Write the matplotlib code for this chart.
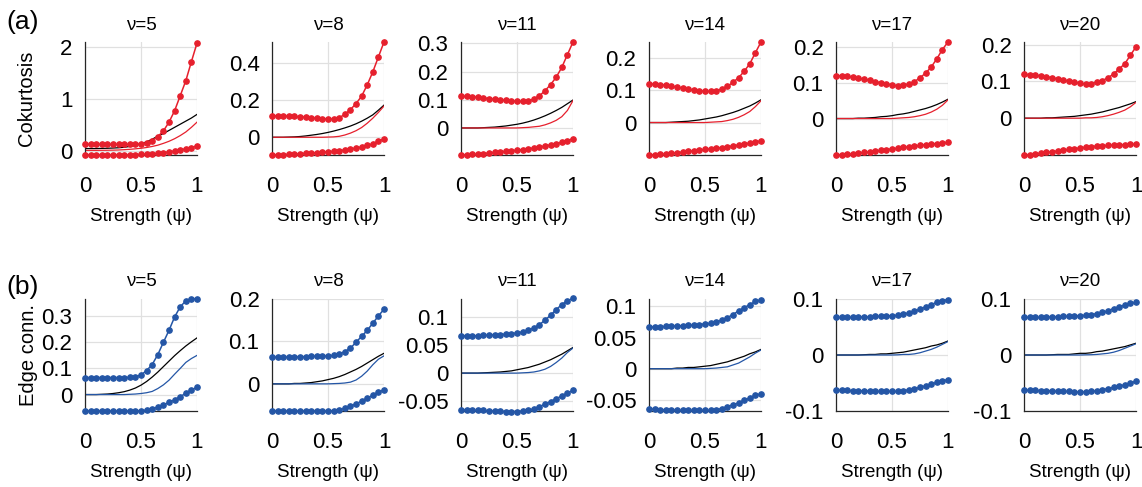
import matplotlib
matplotlib.use("Agg")
import matplotlib.pyplot as plt
from matplotlib.ticker import FormatStrFormatter

plt.rcParams["font.family"] = ["Liberation Sans", "DejaVu Sans"]
plt.rcParams["axes.unicode_minus"] = False

strength = [0.0, 0.05, 0.1, 0.15, 0.2, 0.25, 0.3, 0.35, 0.4, 0.45, 0.5,
            0.55, 0.6, 0.65, 0.7, 0.75, 0.8, 0.85, 0.9, 0.95, 1.0]
nu = [5, 8, 11, 14, 17, 20]

# (a) cokurtosis: upper / lower dotted bounds, black reference, red estimate
cok_upper = [
    [0.12, 0.12, 0.12, 0.12, 0.12, 0.12, 0.12, 0.12, 0.12, 0.125, 0.13, 0.15, 0.19, 0.27, 0.38, 0.55, 0.77, 1.06, 1.35, 1.72, 2.08],
    [0.115, 0.115, 0.114, 0.113, 0.112, 0.11, 0.108, 0.105, 0.102, 0.1, 0.098, 0.098, 0.105, 0.122, 0.148, 0.18, 0.22, 0.28, 0.35, 0.43, 0.51],
    [0.112, 0.112, 0.111, 0.109, 0.107, 0.104, 0.102, 0.1, 0.098, 0.096, 0.094, 0.094, 0.096, 0.102, 0.114, 0.132, 0.154, 0.18, 0.215, 0.26, 0.305],
    [0.119, 0.118, 0.117, 0.115, 0.112, 0.109, 0.106, 0.103, 0.1, 0.098, 0.096, 0.096, 0.098, 0.103, 0.111, 0.124, 0.138, 0.158, 0.181, 0.215, 0.248],
    [0.12, 0.119, 0.118, 0.116, 0.113, 0.11, 0.107, 0.103, 0.1, 0.097, 0.094, 0.092, 0.093, 0.097, 0.103, 0.114, 0.127, 0.144, 0.167, 0.193, 0.214],
    [0.119, 0.118, 0.117, 0.115, 0.113, 0.11, 0.107, 0.104, 0.101, 0.098, 0.095, 0.093, 0.094, 0.098, 0.102, 0.11, 0.12, 0.134, 0.148, 0.171, 0.194],
]
cok_lower = [
    [-0.08, -0.08, -0.08, -0.08, -0.08, -0.08, -0.08, -0.08, -0.08, -0.078, -0.075, -0.07, -0.062, -0.052, -0.04, -0.025, -0.008, 0.012, 0.035, 0.06, 0.09],
    [-0.095, -0.094, -0.093, -0.092, -0.09, -0.088, -0.086, -0.084, -0.082, -0.08, -0.078, -0.075, -0.072, -0.068, -0.063, -0.058, -0.052, -0.044, -0.035, -0.022, -0.008],
    [-0.096, -0.095, -0.094, -0.093, -0.091, -0.089, -0.087, -0.085, -0.083, -0.081, -0.079, -0.077, -0.074, -0.071, -0.068, -0.064, -0.06, -0.056, -0.051, -0.045, -0.038],
    [-0.1, -0.099, -0.098, -0.097, -0.095, -0.093, -0.091, -0.089, -0.087, -0.085, -0.083, -0.081, -0.079, -0.077, -0.074, -0.072, -0.069, -0.066, -0.063, -0.06, -0.056],
    [-0.102, -0.101, -0.1, -0.099, -0.097, -0.095, -0.093, -0.091, -0.089, -0.087, -0.085, -0.083, -0.081, -0.079, -0.077, -0.075, -0.073, -0.071, -0.07, -0.068, -0.067],
    [-0.1, -0.099, -0.097, -0.095, -0.093, -0.091, -0.089, -0.087, -0.085, -0.083, -0.081, -0.079, -0.077, -0.076, -0.075, -0.074, -0.073, -0.072, -0.072, -0.071, -0.071],
]
cok_black = [
    [0.04, 0.04, 0.04, 0.043, 0.045, 0.05, 0.055, 0.065, 0.08, 0.1, 0.13, 0.17, 0.22, 0.28, 0.33, 0.39, 0.45, 0.51, 0.57, 0.63, 0.70],
    [0, 0, 0, 0.001, 0.002, 0.004, 0.007, 0.011, 0.015, 0.02, 0.026, 0.033, 0.041, 0.05, 0.06, 0.072, 0.086, 0.102, 0.12, 0.145, 0.172],
    [0, 0, 0, 0, 0.001, 0.002, 0.003, 0.005, 0.007, 0.01, 0.013, 0.017, 0.022, 0.028, 0.035, 0.043, 0.052, 0.062, 0.073, 0.086, 0.099],
    [0, 0, 0, 0, 0.001, 0.002, 0.003, 0.004, 0.006, 0.008, 0.011, 0.014, 0.017, 0.021, 0.026, 0.031, 0.037, 0.044, 0.051, 0.06, 0.07],
    [0, 0, 0, 0, 0.001, 0.001, 0.002, 0.003, 0.005, 0.006, 0.008, 0.011, 0.013, 0.016, 0.02, 0.024, 0.028, 0.033, 0.039, 0.046, 0.054],
    [0, 0, 0, 0, 0.001, 0.001, 0.002, 0.003, 0.004, 0.005, 0.007, 0.009, 0.011, 0.014, 0.017, 0.021, 0.025, 0.029, 0.034, 0.039, 0.045],
]
cok_est = [
    [0.005, 0.005, 0.005, 0.006, 0.007, 0.009, 0.012, 0.018, 0.025, 0.034, 0.045, 0.06, 0.08, 0.105, 0.14, 0.18, 0.23, 0.29, 0.36, 0.45, 0.55],
    [0, 0, 0, 0, 0, 0, 0, 0, 0, 0, 0.001, 0.002, 0.005, 0.012, 0.022, 0.035, 0.052, 0.075, 0.102, 0.133, 0.167],
    [0, 0, 0, 0, 0, 0, 0, 0, 0, 0, 0, 0.001, 0.002, 0.004, 0.006, 0.011, 0.018, 0.027, 0.04, 0.062, 0.097],
    [0, 0, 0, 0, 0, 0, 0, 0, 0, 0, 0, 0.001, 0.002, 0.003, 0.006, 0.01, 0.016, 0.024, 0.034, 0.049, 0.067],
    [0, 0, 0, 0, 0, 0, 0, 0, 0, 0, 0, 0.001, 0.002, 0.003, 0.005, 0.008, 0.012, 0.018, 0.026, 0.037, 0.052],
    [0, 0, 0, 0, 0, 0, 0, 0, 0, 0, 0, 0.001, 0.001, 0.002, 0.004, 0.007, 0.011, 0.016, 0.022, 0.031, 0.043],
]

# (b) edge connectivity
edge_upper = [
    [0.065, 0.065, 0.065, 0.065, 0.065, 0.065, 0.065, 0.065, 0.066, 0.068, 0.075, 0.092, 0.115, 0.153, 0.2, 0.246, 0.297, 0.336, 0.359, 0.367, 0.366],
    [0.063, 0.063, 0.063, 0.063, 0.064, 0.064, 0.064, 0.065, 0.065, 0.065, 0.066, 0.067, 0.07, 0.076, 0.084, 0.098, 0.112, 0.126, 0.143, 0.16, 0.176],
    [0.067, 0.067, 0.067, 0.067, 0.068, 0.068, 0.069, 0.069, 0.07, 0.071, 0.072, 0.074, 0.077, 0.081, 0.087, 0.095, 0.104, 0.114, 0.123, 0.13, 0.134],
    [0.067, 0.067, 0.067, 0.068, 0.068, 0.069, 0.069, 0.07, 0.07, 0.071, 0.072, 0.073, 0.075, 0.078, 0.082, 0.087, 0.093, 0.098, 0.103, 0.108, 0.111],
    [0.067, 0.067, 0.067, 0.067, 0.068, 0.068, 0.068, 0.069, 0.069, 0.07, 0.07, 0.071, 0.073, 0.075, 0.078, 0.082, 0.086, 0.09, 0.094, 0.097, 0.099],
    [0.067, 0.067, 0.067, 0.067, 0.068, 0.068, 0.068, 0.069, 0.069, 0.07, 0.07, 0.071, 0.072, 0.074, 0.076, 0.079, 0.083, 0.086, 0.089, 0.092, 0.094],
]
edge_lower = [
    [-0.063, -0.063, -0.063, -0.063, -0.063, -0.063, -0.063, -0.063, -0.063, -0.063, -0.062, -0.06, -0.055, -0.048, -0.04, -0.03, -0.02, -0.008, 0.005, 0.017, 0.028],
    [-0.064, -0.064, -0.064, -0.064, -0.064, -0.064, -0.064, -0.064, -0.064, -0.064, -0.064, -0.063, -0.061, -0.058, -0.053, -0.047, -0.041, -0.034, -0.027, -0.02, -0.014],
    [-0.066, -0.066, -0.067, -0.067, -0.067, -0.068, -0.068, -0.068, -0.069, -0.069, -0.069, -0.068, -0.067, -0.064, -0.06, -0.056, -0.051, -0.046, -0.041, -0.036, -0.031],
    [-0.065, -0.065, -0.066, -0.066, -0.066, -0.067, -0.067, -0.067, -0.067, -0.067, -0.067, -0.067, -0.066, -0.064, -0.061, -0.058, -0.055, -0.051, -0.047, -0.043, -0.04],
    [-0.063, -0.063, -0.063, -0.064, -0.064, -0.064, -0.064, -0.065, -0.065, -0.065, -0.065, -0.065, -0.064, -0.062, -0.06, -0.058, -0.055, -0.052, -0.049, -0.046, -0.044],
    [-0.063, -0.063, -0.063, -0.064, -0.064, -0.064, -0.065, -0.065, -0.065, -0.066, -0.066, -0.066, -0.065, -0.064, -0.062, -0.06, -0.058, -0.056, -0.053, -0.05, -0.047],
]
edge_black = [
    [0, 0, 0, 0.001, 0.002, 0.004, 0.007, 0.011, 0.017, 0.025, 0.036, 0.05, 0.067, 0.086, 0.107, 0.128, 0.149, 0.168, 0.186, 0.202, 0.217],
    [0, 0, 0, 0, 0.001, 0.001, 0.002, 0.003, 0.005, 0.007, 0.01, 0.013, 0.017, 0.022, 0.028, 0.034, 0.041, 0.049, 0.057, 0.065, 0.072],
    [0, 0, 0, 0, 0.0005, 0.001, 0.0015, 0.002, 0.003, 0.004, 0.006, 0.008, 0.01, 0.013, 0.016, 0.02, 0.024, 0.029, 0.034, 0.04, 0.046],
    [0, 0, 0, 0, 0, 0.001, 0.001, 0.002, 0.002, 0.003, 0.004, 0.005, 0.007, 0.009, 0.011, 0.014, 0.017, 0.02, 0.024, 0.027, 0.031],
    [0, 0, 0, 0, 0, 0.0005, 0.001, 0.001, 0.002, 0.002, 0.003, 0.004, 0.005, 0.007, 0.009, 0.011, 0.013, 0.016, 0.018, 0.021, 0.025],
    [0, 0, 0, 0, 0, 0.0005, 0.001, 0.001, 0.001, 0.002, 0.003, 0.003, 0.004, 0.006, 0.007, 0.009, 0.011, 0.013, 0.015, 0.018, 0.021],
]
edge_est = [
    [0, 0, 0, 0, 0, 0, 0, 0, 0.001, 0.002, 0.004, 0.007, 0.012, 0.023, 0.037, 0.055, 0.078, 0.1, 0.123, 0.138, 0.15],
    [0, 0, 0, 0, 0, 0, 0, 0, 0, 0, 0, 0.0005, 0.001, 0.002, 0.004, 0.009, 0.018, 0.03, 0.045, 0.058, 0.066],
    [0, 0, 0, 0, 0, 0, 0, 0, 0, 0, 0, 0.0005, 0.001, 0.002, 0.004, 0.007, 0.012, 0.019, 0.027, 0.037, 0.045],
    [0, 0, 0, 0, 0, 0, 0, 0, 0, 0, 0, 0.0005, 0.001, 0.002, 0.003, 0.006, 0.009, 0.014, 0.019, 0.025, 0.03],
    [0, 0, 0, 0, 0, 0, 0, 0, 0, 0, 0, 0.0003, 0.001, 0.001, 0.002, 0.004, 0.007, 0.01, 0.014, 0.019, 0.024],
    [0, 0, 0, 0, 0, 0, 0, 0, 0, 0, 0, 0.0003, 0.0005, 0.001, 0.002, 0.003, 0.005, 0.008, 0.012, 0.016, 0.02],
]

cok_ylim = [(-0.085, 2.1), (-0.095, 0.51), (-0.096, 0.305), (-0.1, 0.248), (-0.102, 0.214), (-0.1, 0.207)]
cok_yticks = [[0, 1, 2], [0, 0.2, 0.4], [0, 0.1, 0.2, 0.3], [0, 0.1, 0.2], [0, 0.1, 0.2], [0, 0.1, 0.2]]
edge_ylim = [(-0.063, 0.366), (-0.064, 0.2), (-0.068, 0.133), (-0.068, 0.112), (-0.1, 0.1), (-0.1, 0.1)]
edge_yticks = [[0, 0.1, 0.2, 0.3], [0, 0.1, 0.2], [-0.05, 0, 0.05, 0.1], [-0.05, 0, 0.05, 0.1], [-0.1, 0, 0.1], [-0.1, 0, 0.1]]

RED = "#e6202d"
BLUE = "#2456a6"

fig = plt.figure(figsize=(11.42, 4.87), dpi=100)

lefts = [85, 272, 461, 649, 836, 1024]
W, H = 1142, 487
rows = [
    (42, 155, cok_upper, cok_lower, cok_black, cok_est, cok_ylim, cok_yticks, RED, "Cokurtosis", -0.44),
    (299, 411, edge_upper, edge_lower, edge_black, edge_est, edge_ylim, edge_yticks, BLUE, "Edge conn.", -0.42),
]

for top, bottom, upper, lower, black, est, ylims, yticks, col, ylab, ylab_x in rows:
    for i, left in enumerate(lefts):
        ax = fig.add_axes([left / W, 1 - bottom / H, 112 / W, (bottom - top) / H])
        ax.grid(True, color="#e0e0e0", lw=0.9)
        ax.set_axisbelow(True)
        ax.plot(strength, black[i], color="black", lw=0.9)
        ax.plot(strength, est[i], color=col, lw=0.9)
        for series in (upper[i], lower[i]):
            ax.plot(strength, series, color=col, lw=1.1, marker="o", ms=3.8,
                    clip_on=False, zorder=4)
        ax.set_xlim(0, 1)
        ax.set_ylim(*ylims[i])
        ax.set_xticks([0, 0.5, 1])
        ax.set_yticks(yticks[i])
        ax.xaxis.set_major_formatter(FormatStrFormatter("%g"))
        ax.yaxis.set_major_formatter(FormatStrFormatter("%g"))
        ax.tick_params(length=0, labelsize=16)
        ax.tick_params(axis="x", pad=15)
        ax.tick_params(axis="y", pad=9)
        for side in ("top", "right"):
            ax.spines[side].set_visible(False)
        for side in ("left", "bottom"):
            ax.spines[side].set_color("#262626")
            ax.spines[side].set_linewidth(0.9)
        ax.set_title(f"ν={nu[i]}", fontsize=13.5, pad=9)
        ax.set_xlabel("Strength (ψ)", fontsize=13.5, labelpad=8)
        if i == 0:
            ax.set_ylabel(ylab, fontsize=14.5)
            ax.yaxis.set_label_coords(ylab_x, 0.5)

fig.text(6 / W, 1 - 22 / H, "(a)", fontsize=19, va="center", ha="left")
fig.text(6 / W, 1 - 287 / H, "(b)", fontsize=19, va="center", ha="left")

fig.savefig("out.png", dpi=100)
